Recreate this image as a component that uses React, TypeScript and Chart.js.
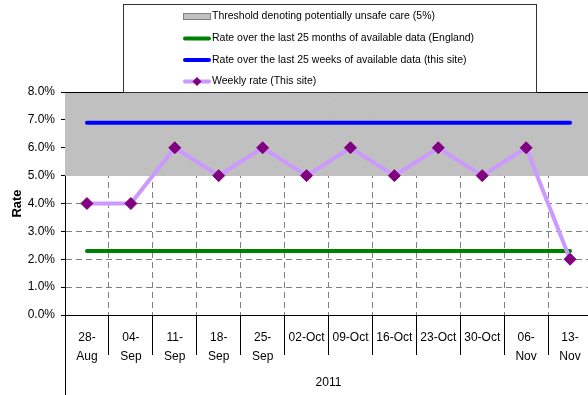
import React, { useEffect, useRef } from 'react';
import { Chart, registerables } from 'chart.js';

Chart.register(...registerables);

// Weeks (2011), shown as two-line labels where the date is split
const weekLabels: (string | string[])[] = [
  ['28-', 'Aug'], ['04-', 'Sep'], ['11-', 'Sep'], ['18-', 'Sep'], ['25-', 'Sep'],
  '02-Oct', '09-Oct', '16-Oct', '23-Oct', '30-Oct', ['06-', 'Nov'], ['13-', 'Nov'],
];
const yearLabel = '2011';

// Rates in percent
const weeklyRate = [4, 4, 6, 5, 6, 5, 6, 5, 6, 5, 6, 2];
const englandRate = [2.3, 2.3, 2.3, 2.3, 2.3, 2.3, 2.3, 2.3, 2.3, 2.3, 2.3, 2.3];
const siteRate = [6.9, 6.9, 6.9, 6.9, 6.9, 6.9, 6.9, 6.9, 6.9, 6.9, 6.9, 6.9];

// Unsafe-care band: from the 5% threshold up to the top of the axis
const thresholdFrom = 5;
const thresholdTo = 8;
const thresholdBand = weeklyRate.map(() => [thresholdFrom, thresholdTo]);

const yTickLabels = ['0.0%', '1.0%', '2.0%', '3.0%', '4.0%', '5.0%', '6.0%', '7.0%', '8.0%'];

const seriesNames = [
  'Threshold denoting potentially unsafe care (5%)',
  'Rate over the last 25 months of available data (England)',
  'Rate over the last 25 weeks of available data (this site)',
  'Weekly rate (This site)',
];

const FONT = "'Liberation Sans', Arial, sans-serif";

const legendBoxPlugin = {
  id: 'legendBox',
  afterDraw(chart: any) {
    const { ctx, chartArea } = chart;
    ctx.save();
    // plot top edge
    ctx.strokeStyle = '#000';
    ctx.lineWidth = 1;
    ctx.beginPath();
    ctx.moveTo(chartArea.left, chartArea.top + 0.5);
    ctx.lineTo(chartArea.right, chartArea.top + 0.5);
    ctx.stroke();
    // left rule continues down past the week labels
    ctx.beginPath();
    ctx.moveTo(chartArea.left + 0.5, chartArea.bottom);
    ctx.lineTo(chartArea.left + 0.5, chart.height);
    ctx.stroke();

    // legend frame
    const bx = 123, by = 4, bw = 413, bh = 88;
    ctx.fillStyle = '#fff';
    ctx.fillRect(bx, by, bw, bh);
    ctx.strokeStyle = '#333';
    ctx.strokeRect(bx + 0.5, by + 0.5, bw, bh);

    const rows = [16.5, 38.5, 60, 81.5];
    const sx0 = 183, sx1 = 211;
    const ds = chart.data.datasets;
    ctx.font = `10.5px ${FONT}`;
    ctx.textBaseline = 'middle';
    ctx.textAlign = 'left';
    ds.forEach((d: any, i: number) => {
      const y = rows[i];
      if (d.type === 'bar') {
        ctx.fillStyle = d.backgroundColor;
        ctx.fillRect(sx0, y - 3.5, sx1 - sx0, 7);
        ctx.strokeStyle = '#808080';
        ctx.lineWidth = 1;
        ctx.strokeRect(sx0 + 0.5, y - 3.5 + 0.5, sx1 - sx0 - 1, 6);
      } else {
        ctx.strokeStyle = d.borderColor;
        ctx.lineWidth = 4;
        ctx.lineCap = 'round';
        ctx.beginPath();
        ctx.moveTo(sx0 + 2, y);
        ctx.lineTo(sx1 - 2, y);
        ctx.stroke();
        if (d.pointRadius) {
          const r = 4.5;
          const cx = (sx0 + sx1) / 2;
          ctx.fillStyle = d.pointBackgroundColor;
          ctx.beginPath();
          ctx.moveTo(cx, y - r);
          ctx.lineTo(cx + r, y);
          ctx.lineTo(cx, y + r);
          ctx.lineTo(cx - r, y);
          ctx.closePath();
          ctx.fill();
        }
      }
      ctx.fillStyle = '#000';
      ctx.fillText(d.label, 212, y);
    });
    ctx.restore();
  },
};

export default function App() {
  const canvasRef = useRef<HTMLCanvasElement | null>(null);

  useEffect(() => {
    const canvas = canvasRef.current;
    if (!canvas) return;
    const chart = new Chart(canvas, {
      type: 'line',
      data: {
        labels: weekLabels,
        datasets: [
          {
            type: 'bar',
            label: seriesNames[0],
            data: thresholdBand as any,
            backgroundColor: '#c0c0c0',
            borderWidth: 0,
            barPercentage: 1,
            categoryPercentage: 1,
            order: 4,
          } as any,
          {
            type: 'line',
            label: seriesNames[1],
            data: englandRate,
            borderColor: '#008000',
            borderWidth: 4,
            pointRadius: 0,
            borderCapStyle: 'round',
            order: 3,
          },
          {
            type: 'line',
            label: seriesNames[2],
            data: siteRate,
            borderColor: '#0000ff',
            borderWidth: 4,
            pointRadius: 0,
            borderCapStyle: 'round',
            order: 2,
          },
          {
            type: 'line',
            label: seriesNames[3],
            data: weeklyRate,
            borderColor: '#cc99ff',
            borderWidth: 4,
            pointStyle: 'rectRot',
            pointRadius: 6,
            pointBorderWidth: 1,
            pointBackgroundColor: '#800080',
            pointBorderColor: '#800080',
            order: 1,
          },
        ],
      },
      options: {
        responsive: false,
        animation: false,
        devicePixelRatio: 1,
        layout: { padding: { top: 92, right: 8, left: 0, bottom: 0 } },
        plugins: {
          legend: { display: false },
          tooltip: { enabled: false },
        },
        scales: {
          x: {
            type: 'category',
            offset: true,
            afterFit: (scale: any) => { scale.height = 80; },
            grid: {
              offset: true,
              color: '#808080',
              lineWidth: 1,
              tickLength: 40,
              tickColor: '#000',
              tickBorderDash: [],
            },
            border: { color: '#000', width: 1, dash: [6, 4] },
            ticks: {
              color: '#000',
              font: { family: FONT, size: 12, lineHeight: 1.6 },
              padding: -27,
              maxRotation: 0,
              autoSkip: false,
            },
            title: {
              display: true,
              text: yearLabel,
              color: '#000',
              font: { family: FONT, size: 12 },
              padding: { top: 0, bottom: 5 },
            },
          },
          y: {
            min: 0,
            max: 8,
            afterFit: (scale: any) => { scale.width = 65; },
            grid: {
              color: '#808080',
              lineWidth: 1,
              tickLength: 4,
              tickColor: '#000',
              tickBorderDash: [],
            },
            border: { color: '#000', width: 1, dash: [6, 4] },
            ticks: {
              stepSize: 1,
              color: '#000',
              padding: 6,
              font: { family: FONT, size: 12 },
              callback: (_v: any, i: number) => yTickLabels[i],
            },
            title: {
              display: true,
              text: 'Rate',
              color: '#000',
              font: { family: FONT, size: 13, weight: 'bold' },
              padding: { top: 10, bottom: 0 },
            },
          },
        },
      },
      plugins: [legendBoxPlugin],
    });
    return () => chart.destroy();
  }, []);

  return (
    <div style={{ position: 'fixed', left: 0, top: 0, width: 588, height: 395, overflow: 'hidden', background: '#fff' }}>
      <canvas ref={canvasRef} width={600} height={395} style={{ display: 'block' }} />
    </div>
  );
}
